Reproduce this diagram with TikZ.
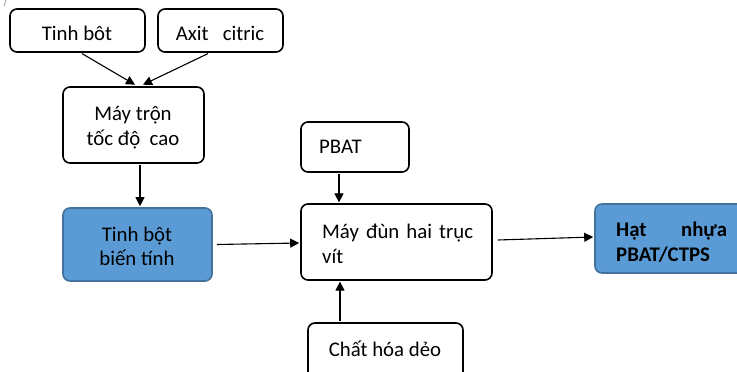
\documentclass[tikz,border=0pt]{standalone}
\usepackage{fontspec}
\setmainfont{Carlito}
\usetikzlibrary{arrows.meta,calc}
\definecolor{boxblue}{HTML}{5B9BD5}
\definecolor{boxblueline}{HTML}{41719C}
\tikzset{
  wbox/.style={draw=black, line width=1.6pt, rounded corners=7pt, fill=white, inner sep=0pt},
  bbox/.style={draw=boxblueline, line width=1.6pt, rounded corners=7pt, fill=boxblue, inner sep=0pt},
  lbl/.style={anchor=base, inner sep=0pt, font=\fontsize{20.8}{25}\selectfont},
  lbll/.style={anchor=base west, inner sep=0pt, font=\fontsize{20.8}{25}\selectfont},
  conn/.style={line width=1.1pt, -{Triangle[length=9pt,width=9pt]}},
}
\begin{document}
\begin{tikzpicture}[x=1pt,y=-1pt]
\useasboundingbox (0,0) rectangle (737,372);
\clip (0,0) rectangle (737,372);
\fill[white] (0,0) rectangle (737,372);
\draw[gray, line width=0.6pt] (4,6) -- (6,0);
% boxes
\node[wbox, minimum width=135pt, minimum height=43pt] (tb) at (77.5,30.5) {};
\node[wbox, minimum width=125pt, minimum height=43pt] (ax) at (220.5,30.5) {};
\node[wbox, minimum width=141pt, minimum height=76pt] (mix) at (133.5,125) {};
\node[bbox, minimum width=149pt, minimum height=73pt] (mod) at (137.5,244.5) {};
\node[wbox, minimum width=108pt, minimum height=50pt] (pbat) at (355,147) {};
\node[wbox, minimum width=191pt, minimum height=76pt] (ext) at (396.5,242) {};
\node[wbox, minimum width=155pt, minimum height=62pt] (cd) at (385.5,354) {};
\node[bbox, minimum width=160pt, minimum height=69pt] (hat) at (675,238.5) {};
% texts
\node[lbl] (t1) at (77,41) {Tinh bôt};
\node[lbl] (t2) at (220,41) {Axit\ \ \ citric};
\node[lbl] (t3) at (133,120) {Máy trộn};
\node[lbl] (t4) at (133,145) {tốc độ\ \ cao};
\node[lbl] (t5) at (137,241) {Tinh bột};
\node[lbl] (t6) at (137,265) {biến tính};
\node[lbll] (t7) at (319,153) {PBAT};
\node[lbll] (t8) at (322,238) {\makebox[151pt][s]{Máy đùn hai trục}};
\node[lbll] (t9) at (322,263) {vít};
\node[lbll, font=\fontsize{20.8}{25}\selectfont\bfseries] (t10) at (616,236) {\makebox[111pt][s]{Hạt nhựa}};
\node[lbll, font=\fontsize{20.8}{25}\selectfont\bfseries] (t11) at (616,261) {PBAT/CTPS};
\node[lbl] (t12) at (385,356) {Chất hóa dẻo};
% connectors
\draw[conn] ($(tb.south)+(4.5,0.8)$) -- ($(mix.north)+(1.5,-1.5)$);
\draw[conn] ($(ax.south)+(-12.5,0.8)$) -- ($(mix.north)+(9.5,-1.5)$);
\draw[conn] ($(mix.south)+(6.5,0.8)$) -- ($(mod.north)+(2.5,-1)$);
\draw[conn] ($(mod.east)+(4,0)$) -- ($(ext.west)+(-1,1)$);
\draw[conn] ($(pbat.south)+(-16,0.8)$) -- ($(ext.north)+(-57.5,-0.8)$);
\draw[conn] ($(cd.north)+(-45.5,-0.8)$) -- ($(ext.south)+(-56.5,0.8)$);
\draw[conn] ($(ext.east)+(5,-2)$) -- ($(hat.west)+(-1,-1.5)$);
\end{tikzpicture}
\end{document}
